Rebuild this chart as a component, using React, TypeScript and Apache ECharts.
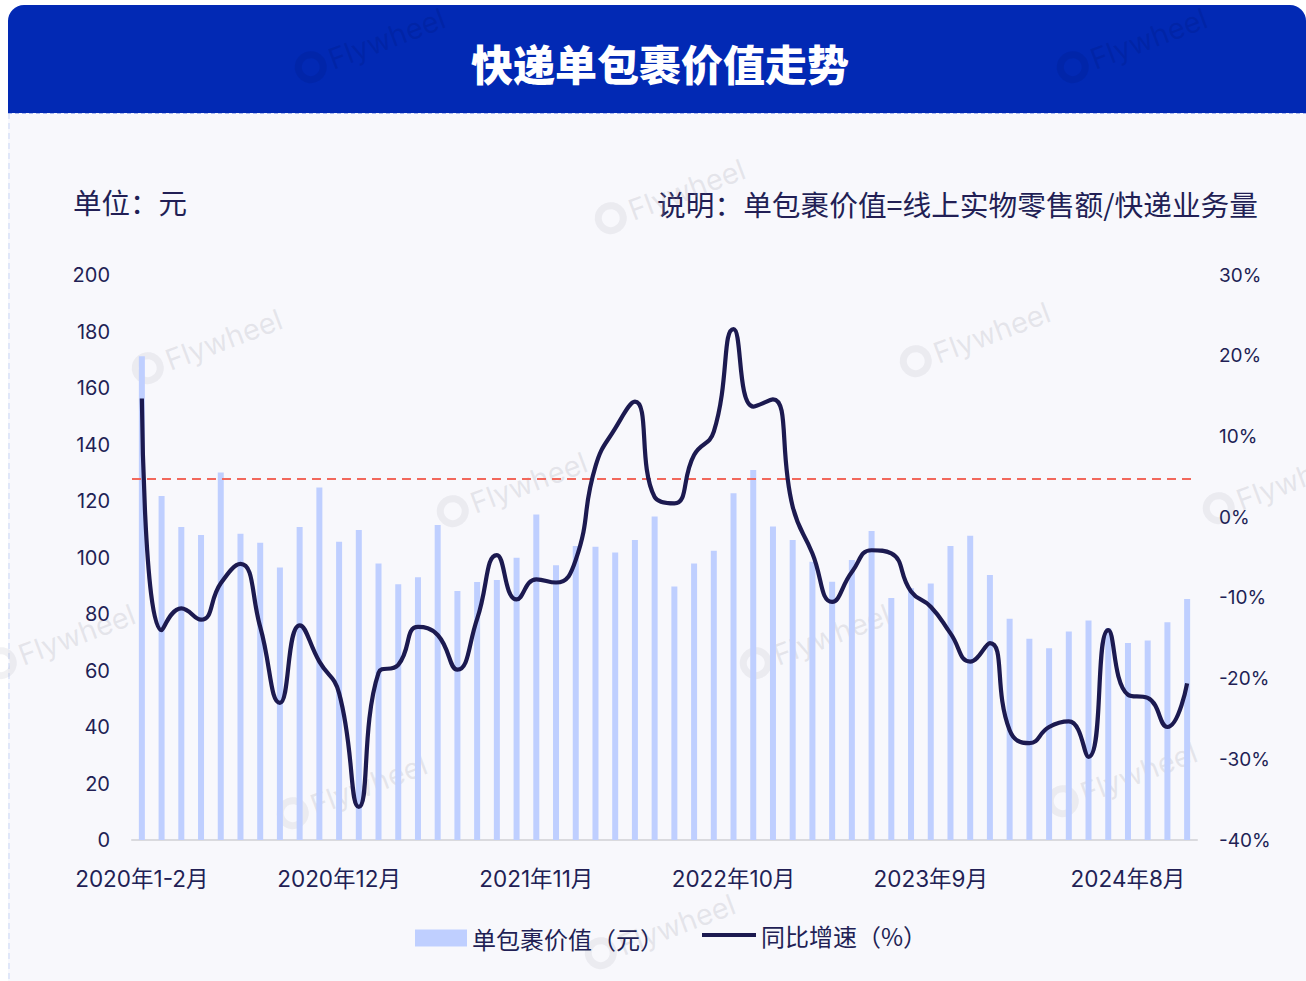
import React, { useEffect, useRef } from "react";
import * as echarts from "echarts";

const categories = [
  "2020年1-2月", "2020年3月", "2020年4月", "2020年5月", "2020年6月", "2020年7月", "2020年8月", "2020年9月", "2020年10月", "2020年11月", "2020年12月",
  "2021年1-2月", "2021年3月", "2021年4月", "2021年5月", "2021年6月", "2021年7月", "2021年8月", "2021年9月", "2021年10月", "2021年11月", "2021年12月",
  "2022年1-2月", "2022年3月", "2022年4月", "2022年5月", "2022年6月", "2022年7月", "2022年8月", "2022年9月", "2022年10月", "2022年11月", "2022年12月",
  "2023年1-2月", "2023年3月", "2023年4月", "2023年5月", "2023年6月", "2023年7月", "2023年8月", "2023年9月", "2023年10月", "2023年11月", "2023年12月",
  "2024年1-2月", "2024年3月", "2024年4月", "2024年5月", "2024年6月", "2024年7月", "2024年8月", "2024年9月", "2024年10月", "2024年11月",
];

const parcelValue = [
  171.2, 121.8, 110.8, 108.0, 130.1, 108.4, 105.2, 96.5, 110.8, 124.8,
  105.6, 109.7, 97.9, 90.5, 93.0, 111.5, 88.1, 91.3, 92.0, 99.9,
  115.2, 97.3, 104.1, 103.8, 101.8, 106.2, 114.5, 89.7, 97.9, 102.4,
  122.7, 131.0, 111.0, 106.2, 98.5, 91.4, 99.1, 109.4, 85.7, 89.1,
  90.8, 104.1, 107.7, 93.8, 78.3, 71.2, 67.9, 73.8, 77.7, 75.0,
  69.7, 70.6, 77.1, 85.3,
];

const yoyGrowth = [
  14.7, -14.0, -11.3, -12.7, -8.2, -5.8, -13.6, -23.0, -13.4, -17.9,
  -21.8, -35.9, -19.3, -18.3, -13.6, -14.6, -18.9, -12.6, -4.7, -10.2,
  -7.7, -8.1, -5.3, 6.3, 11.0, 14.3, 2.5, 1.7, 7.7, 10.6,
  23.3, 13.7, 14.6, 1.3, -4.5, -10.5, -6.8, -4.1, -4.5, -9.2,
  -11.1, -14.4, -17.9, -15.6, -26.4, -28.0, -26.0, -25.3, -29.7, -14.0,
  -22.0, -22.4, -26.0, -20.6,
];

const referenceLevel = 128;

const seriesNames = ["单包裹价值（元）", "同比增速（%）"];
const titleText = "快递单包裹价值走势";
const unitText = "单位：元";
const noteText = "说明：单包裹价值=线上实物零售额/快递业务量";

const watermarkSpots = [
  [300, 84, true], [1062, 84, true], [137, 385], [600, 235], [905, 378], [442, 528],
  [-10, 680], [1208, 525], [282, 830], [745, 680], [1052, 818], [590, 970],
];

const FONT = "Inter, 'Noto Sans CJK SC', 'Noto Sans', sans-serif";
const NAVY = "#221f55";
const LINE_COLOR = "#1c1a50";

export default function App() {
  const ref = useRef<HTMLDivElement>(null);

  useEffect(() => {
    document.body.style.margin = "0";
    document.body.style.background = "#ffffff";
    if (!ref.current) return;
    const chart = echarts.init(ref.current, null, { renderer: "svg" });

    const watermarks = watermarkSpots.map((s: any) => ({
      type: "group",
      x: s[0],
      y: s[1],
      rotation: 0.36,
      silent: true,
      z: 100,
      children: [
        {
          type: "ring",
          shape: { cx: 16, cy: -12, r: 16, r0: 9 },
          style: { fill: s[2] ? "rgba(0,20,120,0.18)" : "rgba(170,170,180,0.16)" },
        },
        {
          type: "text",
          x: 36,
          y: -12,
          style: {
            text: "Flywheel",
            font: "29px " + FONT,
            fill: s[2] ? "rgba(0,20,120,0.22)" : "rgba(160,160,170,0.22)",
            verticalAlign: "middle",
          },
        },
      ],
    }));

    const legendText = { fontSize: 24, color: NAVY, fontFamily: "'Noto Sans CJK SC', sans-serif" };

    chart.setOption({
      animation: false,
      backgroundColor: "#ffffff",
      textStyle: { fontFamily: FONT },
      graphic: [
        {
          type: "rect",
          shape: { x: 8, y: 113, width: 1298, height: 868 },
          style: { fill: "#f8f8fc" },
          z: -10,
        },
        {
          type: "line",
          shape: { x1: 9, y1: 113, x2: 9, y2: 981 },
          style: { stroke: "#d8e1f7", lineWidth: 1.5, lineDash: [6, 4] },
          z: -9,
        },
        {
          type: "rect",
          shape: { x: 8, y: 5, width: 1298, height: 108, r: [16, 16, 0, 0] },
          style: { fill: "#0229b4" },
          z: -8,
        },
        {
          type: "line",
          shape: { x1: 8, y1: 113.5, x2: 1306, y2: 113.5 },
          style: { stroke: "#a9b8ee", lineWidth: 1, lineDash: [4, 3] },
          z: -7,
        },
        {
          type: "text",
          x: 660,
          y: 62,
          style: {
            text: titleText,
            font: "900 42px 'Noto Sans CJK SC', sans-serif",
            fill: "#ffffff",
            align: "center",
            verticalAlign: "middle",
          },
        },
        {
          type: "text",
          x: 73,
          y: 201,
          style: {
            text: unitText,
            font: "28.5px 'Noto Sans CJK SC', sans-serif",
            fill: NAVY,
            verticalAlign: "middle",
          },
        },
        {
          type: "text",
          x: 1258,
          y: 203,
          style: {
            text: noteText,
            font: "28.7px 'Noto Sans CJK SC', sans-serif",
            fill: NAVY,
            align: "right",
            verticalAlign: "middle",
          },
        },
        ...watermarks,
      ],
      legend: [
        {
          data: [{ name: seriesNames[0], icon: "rect" }],
          left: 410,
          top: 921,
          itemWidth: 52,
          itemHeight: 17,
          itemGap: 5,
          textStyle: legendText,
        },
        {
          data: [{ name: seriesNames[1], icon: "rect" }],
          left: 697,
          top: 918,
          itemWidth: 54,
          itemHeight: 4,
          textStyle: legendText,
        },
      ],
      grid: { left: 132, right: 109, top: 275, bottom: 141, containLabel: false },
      xAxis: {
        type: "category",
        data: categories,
        boundaryGap: true,
        axisLine: { show: true, lineStyle: { color: "#dadade", width: 2 } },
        axisTick: { show: false },
        axisLabel: { interval: 9, color: NAVY, fontSize: 22.5, margin: 27, fontFamily: FONT },
      },
      yAxis: [
        {
          type: "value",
          min: 0,
          max: 200,
          interval: 20,
          axisLine: { show: false },
          axisTick: { show: false },
          splitLine: { show: false },
          axisLabel: { color: NAVY, fontSize: 20, margin: 22, fontFamily: FONT },
        },
        {
          type: "value",
          min: -40,
          max: 30,
          interval: 10,
          position: "right",
          axisLine: { show: false },
          axisTick: { show: false },
          splitLine: { show: false },
          axisLabel: { color: NAVY, fontSize: 19, margin: 22, align: "left", formatter: "{value}%", fontFamily: FONT },
        },
      ],
      series: [
        {
          name: seriesNames[0],
          type: "bar",
          data: parcelValue,
          barWidth: 6,
          itemStyle: { color: "#bfcfff" },
          markLine: {
            silent: true,
            symbol: "none",
            label: { show: false },
            lineStyle: { color: "#f2685c", type: [9, 6], width: 2 },
            data: [{ yAxis: referenceLevel }],
          },
        },
        {
          name: seriesNames[1],
          type: "line",
          yAxisIndex: 1,
          data: yoyGrowth,
          smooth: 0.5,
          symbol: "none",
          showSymbol: false,
          lineStyle: { color: LINE_COLOR, width: 4.2 },
          itemStyle: { color: LINE_COLOR },
          z: 5,
        },
      ],
    });

    return () => chart.dispose();
  }, []);

  return <div ref={ref} style={{ width: 1306, height: 981 }} />;
}
